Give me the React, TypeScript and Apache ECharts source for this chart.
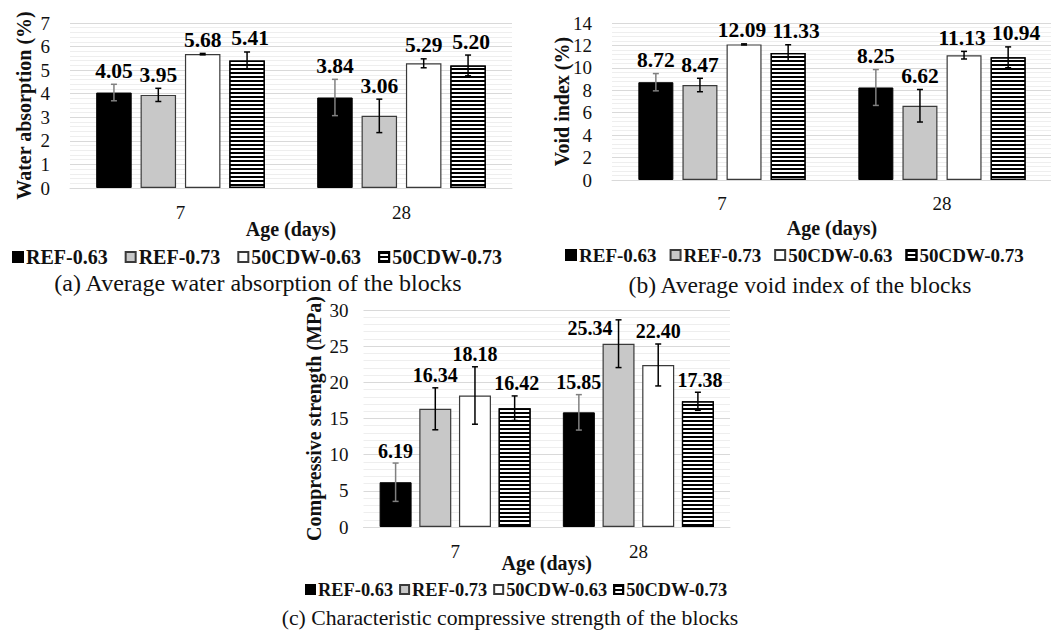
import React, { useEffect, useRef } from 'react';
import * as echarts from 'echarts';

// ---------- data ----------
const categories = ['7', '28'];
const seriesNames = ['REF-0.63', 'REF-0.73', '50CDW-0.63', '50CDW-0.73'];

// (a) average water absorption (%) — per series: [7 days, 28 days]
const waterRef063 = [4.05, 3.84];
const waterRef073 = [3.95, 3.06];
const waterCdw063 = [5.68, 5.29];
const waterCdw073 = [5.41, 5.2];
const waterErrRef063 = [0.35, 0.77];
const waterErrRef073 = [0.28, 0.71];
const waterErrCdw063 = [0.03, 0.19];
const waterErrCdw073 = [0.36, 0.44];

// (b) average void index (%)
const voidRef063 = [8.72, 8.25];
const voidRef073 = [8.47, 6.62];
const voidCdw063 = [12.09, 11.13];
const voidCdw073 = [11.33, 10.94];
const voidErrRef063 = [0.77, 1.6];
const voidErrRef073 = [0.6, 1.45];
const voidErrCdw063 = [0.05, 0.34];
const voidErrCdw073 = [0.73, 0.93];

// (c) characteristic compressive strength (MPa)
const fcRef063 = [6.19, 15.85];
const fcRef073 = [16.34, 25.34];
const fcCdw063 = [18.18, 22.4];
const fcCdw073 = [16.42, 17.38];
const fcErrRef063 = [2.65, 2.45];
const fcErrRef073 = [2.9, 3.3];
const fcErrCdw063 = [3.97, 2.9];
const fcErrCdw073 = [1.7, 1.25];

// ---------- layout / style ----------
const FONT = '"Liberation Serif", "Times New Roman", serif';
const TEXT = '#111';

const panels = [
  {
    key: 'a',
    values: [waterRef063, waterRef073, waterCdw063, waterCdw073],
    errors: [waterErrRef063, waterErrRef073, waterErrCdw063, waterErrCdw073],
    yName: 'Water absorption (%)', yMax: 7, yInterval: 1,
    caption: '(a) Average water absorption of the blocks',
    grid: { left: 70, top: 23, width: 442, height: 165 },
    barWidth: 35.5, barGap: 0.25,
    labelFs: 21.5, tickFs: 19, nameFs: 20,
    yNameGap: 36, yLabelMargin: 20, xLabelMargin: 14.5, xNameGap: 31,
    legend: { left: 12, top: 247, fs: 20, icon: 10, gap: 17 },
    labelDx: [0, 0, 0, 3],
    captionX: 258, captionY: 283, captionFs: 24,
  },
  {
    key: 'b',
    values: [voidRef063, voidRef073, voidCdw063, voidCdw073],
    errors: [voidErrRef063, voidErrRef073, voidErrCdw063, voidErrCdw073],
    yName: 'Void index (%)', yMax: 14, yInterval: 2,
    caption: '(b) Average void index of the blocks',
    grid: { left: 612, top: 23, width: 440, height: 157 },
    barWidth: 35, barGap: 0.26,
    labelFs: 21.5, tickFs: 19, nameFs: 20,
    yNameGap: 40, yLabelMargin: 20, xLabelMargin: 13.5, xNameGap: 38,
    legend: { left: 565, top: 245.5, fs: 19, icon: 10, gap: 13 },
    labelDx: [0, 0, -2, 8],
    captionX: 800, captionY: 285, captionFs: 23.5,
  },
  {
    key: 'c',
    values: [fcRef063, fcRef073, fcCdw063, fcCdw073],
    errors: [fcErrRef063, fcErrRef073, fcErrCdw063, fcErrCdw073],
    yName: 'Compressive strength (MPa)', yMax: 30, yInterval: 5,
    caption: '(c) Characteristic compressive strength of the blocks',
    grid: { left: 363.5, top: 310, width: 366.5, height: 217 },
    barWidth: 32, barGap: 0.24,
    labelFs: 20, tickFs: 19, nameFs: 20,
    yNameGap: 40, yLabelMargin: 15, xLabelMargin: 14.5, xNameGap: 26,
    legend: { left: 305, top: 580.5, fs: 18.4, icon: 9, gap: 6 },
    labelDx: [0, 0, 0, 2],
    captionX: 510, captionY: 618, captionFs: 21.7,
  },
];

// labels that sit to the left of their error bar instead of above it
const LEFT_LABELS = new Set(['c-1-1']);

const barStyles = [
  { color: '#000000', borderColor: '#000000', borderWidth: 1 },
  { color: '#c8c8c8', borderColor: '#3a3a3a', borderWidth: 1.2 },
  { color: '#ffffff', borderColor: '#3a3a3a', borderWidth: 1.2 },
  {
    color: '#ffffff', borderColor: '#000000', borderWidth: 1.2,
    decal: {
      symbol: 'rect', symbolSize: 1, dashArrayX: [1, 0], dashArrayY: [2, 2],
      rotation: 0, color: '#000000', backgroundColor: '#ffffff',
    },
  },
];
const errColors = ['#808080', '#000000', '#000000', '#000000'];

function buildOption() {
  const grids: any[] = [];
  const xAxes: any[] = [];
  const yAxes: any[] = [];
  const series: any[] = [];
  const legends: any[] = [];
  const graphics: any[] = [];

  panels.forEach((p, i) => {
    grids.push({ ...p.grid, containLabel: false, outerBoundsMode: 'none' });
    xAxes.push({
      type: 'category', gridIndex: i, data: categories,
      name: 'Age (days)', nameLocation: 'middle', nameGap: p.xNameGap, nameMoveOverlap: false,
      nameTextStyle: { fontFamily: FONT, fontWeight: 'bold', fontSize: p.nameFs, color: TEXT },
      axisLabel: { fontFamily: FONT, fontSize: p.tickFs, color: TEXT, margin: p.xLabelMargin },
      axisTick: { show: false },
      axisLine: { lineStyle: { color: '#d9d9d9', width: 1 } },
      splitLine: { show: false },
    });
    yAxes.push({
      type: 'value', gridIndex: i, min: 0, max: p.yMax, interval: p.yInterval,
      name: p.yName, nameLocation: 'middle', nameGap: p.yNameGap, nameRotate: 90, nameMoveOverlap: false,
      nameTextStyle: { fontFamily: FONT, fontWeight: 'bold', fontSize: p.nameFs, color: TEXT },
      axisLabel: { fontFamily: FONT, fontSize: p.tickFs, color: TEXT, margin: p.yLabelMargin },
      axisLine: { show: false },
      axisTick: { show: false },
      splitLine: { lineStyle: { color: '#d9d9d9', width: 1 } },
      minorTick: { show: false, splitNumber: 5 },
      minorSplitLine: { show: true, lineStyle: { color: '#eeeeee', width: 1 } },
    });

    seriesNames.forEach((name, s) => {
      series.push({
        type: 'bar', name, xAxisIndex: i, yAxisIndex: i,
        data: p.values[s],
        barWidth: p.barWidth, barGap: `${p.barGap * 100}%`,
        itemStyle: barStyles[s],
        emphasis: { disabled: true },
        z: 2,
      });
    });

    seriesNames.forEach((name, s) => {
      const data = p.values[s].map((v, c) => [c, v, p.errors[s][c]]);
      series.push({
        type: 'custom', name: `err-${p.key}-${s}`, xAxisIndex: i, yAxisIndex: i,
        data, z: 5, silent: true,
        encode: { x: 0, y: 1 },
        renderItem: (params: any, api: any) => {
          const cat = api.value(0);
          const val = api.value(1);
          const err = api.value(2);
          const step = p.barWidth * (1 + p.barGap);
          const off = (s - 1.5) * step;
          const base = api.coord([cat, val]);
          const x = base[0] + off;
          const barTop = base[1];
          const top = api.coord([cat, val + err])[1];
          const bot = api.coord([cat, val - err])[1];
          const col = errColors[s];
          const cap = 3;
          const lw = 1.5;
          const key = `${p.key}-${s}-${cat}`;
          const left = LEFT_LABELS.has(key);
          const font = `bold ${p.labelFs}px ${FONT}`;
          const text = val.toFixed(2);
          const lx = x + p.labelDx[s];
          return {
            type: 'group',
            children: [
              { type: 'line', shape: { x1: x, y1: top, x2: x, y2: bot }, style: { stroke: col, lineWidth: lw } },
              { type: 'line', shape: { x1: x - cap, y1: top, x2: x + cap, y2: top }, style: { stroke: col, lineWidth: lw } },
              { type: 'line', shape: { x1: x - cap, y1: bot, x2: x + cap, y2: bot }, style: { stroke: col, lineWidth: lw } },
              {
                type: 'text',
                style: left
                  ? { text, x: x - 6, y: barTop - 5.5, font, fill: '#000', align: 'right', verticalAlign: 'bottom', textAlign: 'right', textVerticalAlign: 'bottom' }
                  : { text, x: lx, y: top - 2.5, font, fill: '#000', align: 'center', verticalAlign: 'bottom', textAlign: 'center', textVerticalAlign: 'bottom' },
              },
            ],
          };
        },
      });
    });

    legends.push({
      data: seriesNames, left: p.legend.left, top: p.legend.top, padding: 0,
      orient: 'horizontal', icon: 'rect',
      itemWidth: p.legend.icon, itemHeight: p.legend.icon, itemGap: p.legend.gap,
      selectedMode: false,
      textStyle: { fontFamily: FONT, fontWeight: 'bold', fontSize: p.legend.fs, color: TEXT, padding: [0, 0, 0, -2] },
    });

    graphics.push({
      type: 'text', x: p.captionX, y: p.captionY, silent: true,
      style: {
        text: p.caption, font: `${p.captionFs}px ${FONT}`, fill: TEXT,
        align: 'center', verticalAlign: 'middle', textAlign: 'center', textVerticalAlign: 'middle',
      },
    });
  });

  return {
    animation: false,
    backgroundColor: '#ffffff',
    grid: grids,
    xAxis: xAxes,
    yAxis: yAxes,
    legend: legends,
    series,
    graphic: graphics,
    tooltip: { show: false },
  };
}

export default function App() {
  const ref = useRef<HTMLDivElement>(null);
  useEffect(() => {
    document.body.style.margin = '0';
    if (!ref.current) return;
    const chart = echarts.init(ref.current, null, { renderer: 'svg' });
    chart.setOption(buildOption() as any);
    return () => chart.dispose();
  }, []);
  return <div ref={ref} style={{ width: 1051, height: 632, background: '#fff' }} />;
}
